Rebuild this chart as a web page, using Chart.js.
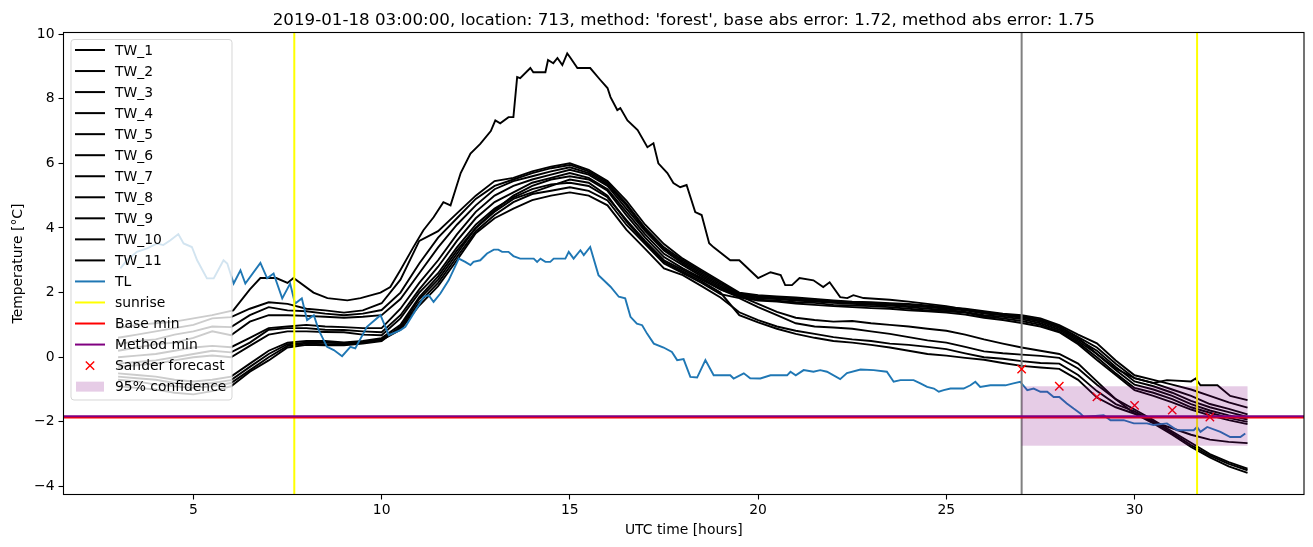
<!DOCTYPE html>
<html>
<head>
<meta charset="utf-8">
<script src="https://cdn.jsdelivr.net/npm/chart.js@4.4.1/dist/chart.umd.min.js"></script>
<style>
  html, body { margin: 0; padding: 0; background: #fff; }
  canvas { display: block; }
</style>
</head>
<body>
<canvas id="chart" width="1313" height="547"></canvas>
<script>
// grid of the water temperature series (hours UTC)
var hours = [3, 3.5, 4, 4.5, 5, 5.5, 6, 6.5, 7, 7.5, 8, 8.5, 9, 9.5, 10,
    10.5, 11, 11.5, 12, 12.5, 13, 13.5, 14, 14.5, 15, 15.5, 16, 16.5, 17, 17.5, 18, 18.5, 19, 19.5, 20,
    20.5, 21, 21.5, 22, 22.5, 23, 23.5, 24, 24.5, 25, 25.5, 26, 26.5, 27, 27.5, 28, 28.5, 29, 29.5, 30,
    30.5, 31, 31.5, 32, 32.5, 33];

var tw1 = [0.6, 0.7, 0.8, 0.9, 1.0, 1.2, 1.24, 1.5, 1.7, 1.65, 1.5, 1.45, 1.38, 1.45, 1.67,
    2.4, 3.6, 3.9, 4.45, 5.0, 5.45, 5.55, 5.75, 5.9, 6.0, 5.8, 5.45, 4.85, 4.1, 3.5, 3.05, 2.7, 2.35, 2.0, 1.92,
    1.88, 1.85, 1.8, 1.76, 1.72, 1.7, 1.67, 1.65, 1.6, 1.55, 1.5, 1.42, 1.35, 1.3, 1.2, 0.99, 0.7, 0.43, -0.1, -0.56,
    -0.7, -0.85, -1.0, -1.2, -1.4, -1.56];
var tw2 = [0.4, 0.5, 0.55, 0.7, 0.8, 0.95, 0.93, 1.3, 1.55, 1.45, 1.42, 1.35, 1.3, 1.35, 1.46,
    2.0, 2.9, 3.7, 4.3, 4.9, 5.3, 5.5, 5.7, 5.85, 5.95, 5.75, 5.4, 4.75, 4.0, 3.4, 3.0, 2.65, 2.3, 1.98, 1.88,
    1.85, 1.82, 1.78, 1.73, 1.7, 1.68, 1.65, 1.62, 1.58, 1.52, 1.48, 1.38, 1.32, 1.26, 1.15, 0.95, 0.62, 0.3, -0.2, -0.65,
    -0.8, -1.0, -1.2, -1.45, -1.6, -1.77];
var tw3 = [0.2, 0.3, 0.4, 0.45, 0.6, 0.8, 0.68, 1.1, 1.3, 1.3, 1.28, 1.25, 1.22, 1.25, 1.3,
    1.8, 2.6, 3.4, 4.1, 4.7, 5.2, 5.45, 5.6, 5.75, 5.88, 5.7, 5.35, 4.7, 3.95, 3.35, 2.95, 2.6, 2.25, 1.95, 1.85,
    1.82, 1.78, 1.75, 1.7, 1.68, 1.65, 1.62, 1.58, 1.55, 1.5, 1.45, 1.35, 1.3, 1.22, 1.1, 0.9, 0.55, 0.2, -0.3, -0.75,
    -0.9, -1.1, -1.35, -1.55, -1.7, -1.85];
var tw4 = [0.0, 0.05, 0.1, 0.2, 0.3, 0.35, 0.31, 0.6, 0.9, 0.95, 1.0, 0.95, 0.93, 0.9, 0.9,
    1.5, 2.3, 3.0, 3.8, 4.5, 5.0, 5.3, 5.5, 5.65, 5.8, 5.65, 5.3, 4.6, 3.9, 3.3, 2.9, 2.55, 2.2, 1.92, 1.82,
    1.8, 1.75, 1.72, 1.68, 1.65, 1.62, 1.6, 1.55, 1.5, 1.46, 1.4, 1.3, 1.25, 1.18, 1.05, 0.85, 0.5, 0.1, -0.4, -0.85,
    -1.0, -1.2, -1.45, -1.65, -1.8, -1.93];
var tw5 = [-0.2, -0.15, -0.1, 0.0, 0.1, 0.2, 0.15, 0.45, 0.85, 0.9, 0.9, 0.85, 0.84, 0.8, 0.77,
    1.3, 2.1, 2.8, 3.6, 4.3, 4.8, 5.1, 5.4, 5.55, 5.7, 5.55, 5.2, 4.5, 3.8, 3.2, 2.85, 2.5, 2.15, 1.9, 1.78,
    1.75, 1.7, 1.68, 1.62, 1.6, 1.58, 1.55, 1.5, 1.45, 1.42, 1.38, 1.26, 1.2, 1.12, 1.0, 0.8, 0.45, 0.0, -0.5, -0.95,
    -1.1, -1.3, -1.55, -1.72, -1.88, -2.0];
var tw6 = [-0.3, -0.25, -0.2, -0.1, 0.0, 0.05, 0.0, 0.35, 0.7, 0.8, 0.8, 0.78, 0.77, 0.7, 0.68,
    1.2, 2.0, 2.6, 3.4, 4.1, 4.6, 4.95, 5.2, 5.35, 5.4, 5.3, 4.95, 4.25, 3.6, 3.0, 2.7, 2.4, 2.1, 1.9, 1.65,
    1.4, 1.22, 1.15, 1.1, 1.12, 1.05, 1.0, 0.95, 0.88, 0.82, 0.7, 0.55, 0.42, 0.3, 0.2, 0.1, -0.2, -0.75, -1.3, -1.74,
    -2.0, -2.2, -2.4, -2.55, -2.62, -2.66];
var tw8 = [-0.5, -0.55, -0.6, -0.7, -0.75, -0.7, -0.6, -0.2, 0.2, 0.45, 0.5, 0.5, 0.46, 0.5, 0.59,
    1.0, 1.86, 2.5, 3.3, 4.0, 4.55, 5.0, 5.3, 5.5, 5.6, 5.5, 5.15, 4.4, 3.7, 3.1, 2.75, 2.45, 2.1, 1.85, 1.75,
    1.72, 1.66, 1.62, 1.58, 1.55, 1.52, 1.5, 1.45, 1.42, 1.38, 1.32, 1.22, 1.15, 1.06, 0.95, 0.77, 0.4, -0.09, -0.55, -1.02,
    -1.2, -1.4, -1.62, -1.8, -1.95, -2.07];
var tw9 = [-0.6, -0.65, -0.7, -0.8, -0.85, -0.8, -0.71, -0.3, 0.1, 0.4, 0.45, 0.45, 0.43, 0.48, 0.55,
    0.9, 1.7, 2.3, 3.1, 3.9, 4.4, 4.8, 5.05, 5.15, 5.26, 5.15, 4.85, 4.1, 3.5, 2.9, 2.6, 2.3, 1.95, 1.83, 1.55,
    1.3, 1.05, 0.95, 0.92, 0.88, 0.8, 0.72, 0.62, 0.52, 0.45, 0.32, 0.18, 0.12, 0.08, 0.04, -0.02, -0.35, -0.85, -1.3, -1.62,
    -1.95, -2.3, -2.65, -3.0, -3.25, -3.45];
var tw10 = [-0.7, -0.75, -0.85, -0.9, -0.95, -0.9, -0.8, -0.4, 0.0, 0.35, 0.42, 0.4, 0.4, 0.45, 0.53,
    0.85, 1.6, 2.2, 3.0, 3.84, 4.3, 4.6, 4.86, 5.0, 5.1, 5.0, 4.7, 3.95, 3.35, 2.75, 2.54, 2.2, 1.85, 1.39, 1.15,
    0.95, 0.82, 0.72, 0.62, 0.55, 0.5, 0.42, 0.38, 0.32, 0.25, 0.12, 0.0, -0.05, -0.12, -0.18, -0.2, -0.55, -1.05, -1.45, -1.68,
    -2.0, -2.35, -2.72, -3.05, -3.3, -3.5];
var tw11 = [-0.9, -0.95, -1.0, -1.1, -1.15, -1.05, -0.9, -0.45, -0.1, 0.3, 0.38, 0.37, 0.37, 0.42, 0.5,
    0.95, 1.8, 2.4, 3.2, 4.0, 4.5, 4.9, 5.1, 5.3, 5.5, 5.4, 5.0, 4.2, 3.55, 2.95, 2.65, 2.35, 2.0, 1.3, 1.08,
    0.88, 0.72, 0.6, 0.5, 0.45, 0.38, 0.3, 0.2, 0.1, 0.05, -0.02, -0.08, -0.18, -0.27, -0.32, -0.36, -0.7, -1.25, -1.55, -1.75,
    -2.05, -2.4, -2.78, -3.1, -3.38, -3.58];

// the warmest sensor has its own, finer trace
var tw7Hours = [3, 3.5, 4, 4.5, 5, 5.5, 6.06, 6.5, 6.78, 7.2, 7.5, 7.66, 8.19, 8.56, 9.09, 9.44, 9.97,
    10.23, 10.5, 10.84, 11.11, 11.38, 11.64, 11.83, 12.1, 12.36, 12.62, 12.9, 13.02, 13.15, 13.37, 13.5,
    13.6, 13.68, 13.95, 14.03, 14.35, 14.42, 14.56, 14.67, 14.8, 14.93, 15.0, 15.2, 15.54, 15.81, 16.0,
    16.08, 16.26, 16.34, 16.53, 16.8, 17.06, 17.22, 17.35, 17.59, 17.75, 17.93, 18.1, 18.33, 18.5, 18.7,
    18.82, 19.26, 19.5, 20.0, 20.33, 20.6, 20.72, 20.9, 21.1, 21.47, 21.73, 21.9, 22.18, 22.37, 22.53,
    22.8, 23.5, 24, 24.5, 25, 25.5, 26, 26.5, 27, 27.5, 28, 28.5, 29, 29.5, 30, 30.5, 30.86, 31.5, 31.62,
    31.75, 32.2, 32.54, 33];
var tw7 = [0.9, 1.0, 1.05, 1.1, 1.2, 1.3, 1.45, 2.1, 2.45, 2.45, 2.3, 2.45, 2.0, 1.83, 1.76, 1.83, 2.0,
    2.17, 2.7, 3.4, 3.93, 4.33, 4.8, 4.7, 5.7, 6.3, 6.6, 7.0, 7.33, 7.24, 7.43, 7.43,
    8.67, 8.64, 8.95, 8.82, 8.82, 9.2, 9.1, 9.26, 9.04, 9.4, 9.29, 8.95, 8.95, 8.58, 8.33,
    8.05, 7.65, 7.71, 7.33, 7.03, 6.5, 6.62, 6.0, 5.7, 5.39, 5.26, 5.33, 4.49, 4.4, 3.53,
    3.4, 3.0, 3.0, 2.45, 2.63, 2.54, 2.23, 2.23, 2.45, 2.38, 2.17, 2.32, 1.86, 1.83, 1.92,
    1.83, 1.78, 1.72, 1.65, 1.58, 1.48, 1.4, 1.32, 1.25, 1.15, 0.95, 0.6, 0.1, -0.35, -0.65, -0.8, -0.71, -0.75, -0.66,
    -0.87, -0.87, -1.2, -1.33];

// air temperature TL
var tlHours = [3.06, 3.24, 3.5, 3.77, 4.04, 4.2, 4.39, 4.6, 4.74, 4.96, 5.1, 5.36, 5.54, 5.8, 5.9, 6.07, 6.25, 6.38,
    6.78, 6.96, 7.13, 7.36, 7.57, 7.7, 7.88, 8.02, 8.2, 8.33, 8.55, 8.73, 8.95, 9.17, 9.3, 9.61, 9.97, 10.19,
    10.5, 10.63, 10.85, 11.12, 11.25, 11.38, 11.56, 11.78, 12.05, 12.22, 12.36, 12.44, 12.62, 12.8, 12.98, 13.1,
    13.2, 13.37, 13.5, 13.68, 14.04, 14.13, 14.22, 14.35, 14.48, 14.57, 14.88, 14.97, 15.1, 15.28, 15.37, 15.54,
    15.76, 16.08, 16.3, 16.47, 16.61, 16.78, 16.92, 17.05, 17.23, 17.49, 17.71, 17.85, 18.02, 18.2, 18.38, 18.6,
    18.82, 19.26, 19.35, 19.62, 19.79, 20.06, 20.33, 20.77, 20.86, 21.0, 21.21, 21.47, 21.65, 21.83, 22.18, 22.36,
    22.72, 23.07, 23.42, 23.6, 23.78, 24.13, 24.31, 24.49, 24.67, 24.8, 24.93, 25.11, 25.46, 25.64, 25.77, 25.9,
    26.17, 26.57, 26.78, 26.96, 27.15, 27.32, 27.5, 27.68, 27.85, 28.0, 28.2, 28.38, 28.56, 28.65, 29.18, 29.36,
    29.71, 29.98, 30.33, 30.5, 30.86, 31.13, 31.57, 31.66, 31.75, 31.93, 32.28, 32.54, 32.81, 32.94];
var tl = [2.75, 3.0, 3.26, 3.37, 3.52, 3.47, 3.62, 3.81, 3.52, 3.41, 3.0, 2.44, 2.44, 3.0, 2.9, 2.28, 2.69, 2.28,
    2.92, 2.44, 2.59, 1.82, 2.28, 1.66, 1.82, 1.15, 1.3, 0.84, 0.32, 0.22, 0.03, 0.32, 0.27, 0.94, 1.3, 0.68,
    0.84, 0.94, 1.35, 1.87, 1.92, 1.71, 1.97, 2.38, 3.05, 2.95, 2.85, 2.95, 3.0, 3.21, 3.33, 3.33,
    3.26, 3.26, 3.13, 3.05, 3.05, 2.95, 3.05, 2.95, 2.95, 3.05, 3.05, 3.26, 3.05, 3.31, 3.16, 3.41,
    2.54, 2.18, 1.87, 1.82, 1.25, 1.04, 0.99, 0.73, 0.42, 0.3, 0.16, -0.09, -0.06, -0.61, -0.63, -0.09,
    -0.56, -0.56, -0.66, -0.5, -0.65, -0.66, -0.56, -0.56, -0.45, -0.56, -0.4, -0.45, -0.4, -0.45, -0.68, -0.49,
    -0.38, -0.4, -0.45, -0.76, -0.71, -0.71, -0.81, -0.92, -0.97, -1.07, -1.02, -0.97, -0.97, -0.87, -0.76, -0.92,
    -0.87, -0.87, -0.81, -0.76, -1.02, -0.97, -1.07, -1.07, -1.23, -1.23, -1.43, -1.59, -1.74, -1.85, -1.8, -1.95,
    -1.95, -2.05, -2.05, -2.1, -2.05, -2.26, -2.26, -2.16, -2.31, -2.16, -2.31, -2.47, -2.47, -2.36];

// forecast part
var forecastHours = [27, 28, 29, 30, 31, 32];
var forecastTemp = [-0.37, -0.9, -1.23, -1.49, -1.64, -1.85];
var bandHours = [27, 33];
var bandLow = -2.74;
var bandHigh = -0.9;
var sunriseHours = [7.68, 31.66];
var forecastStart = 27;
var baseMin = -1.865;
var methodMin = -1.83;

var xTicks = [5, 10, 15, 20, 25, 30];
var yTicks = [-4, -2, 0, 2, 4, 6, 8, 10];

var twSeries = [
    [hours, tw1], [hours, tw2], [hours, tw3], [hours, tw4], [hours, tw5], [hours, tw6],
    [tw7Hours, tw7], [hours, tw8], [hours, tw9], [hours, tw10], [hours, tw11]
];

function toPoints(xs, ys) {
    return xs.map(function (x, i) { return { x: x, y: ys[i] }; });
}

var FONT = "'DejaVu Sans', sans-serif";
Chart.defaults.font.family = FONT;
Chart.defaults.font.size = 13.9;
Chart.defaults.color = '#000';

var datasets = twSeries.map(function (s, i) {
    return {
        label: 'TW_' + (i + 1),
        data: toPoints(s[0], s[1]),
        borderColor: '#000',
        borderWidth: 1.9,
        pointRadius: 0,
        order: 3
    };
});
datasets.push({
    label: 'TL',
    data: toPoints(tlHours, tl),
    borderColor: '#1f77b4',
    borderWidth: 1.9,
    pointRadius: 0,
    order: 2
});
datasets.push({
    label: 'Sander forecast',
    data: toPoints(forecastHours, forecastTemp),
    showLine: false,
    pointStyle: 'crossRot',
    pointRadius: 5.9,
    borderColor: '#ff0000',
    borderWidth: 1.4,
    order: 1
});
var TL_INDEX = 11;

var legendItems = [];
for (var i = 1; i <= 11; i++) legendItems.push({ label: 'TW_' + i, kind: 'line', color: '#000' });
legendItems.push({ label: 'TL', kind: 'line', color: '#1f77b4' });
legendItems.push({ label: 'sunrise', kind: 'line', color: '#ffff00' });
legendItems.push({ label: 'Base min', kind: 'line', color: '#ff0000' });
legendItems.push({ label: 'Method min', kind: 'line', color: '#800080' });
legendItems.push({ label: 'Sander forecast', kind: 'marker', color: '#ff0000' });
legendItems.push({ label: '95% confidence', kind: 'patch', color: 'rgba(128,0,128,0.2)' });

function drawCross(ctx, cx, cy, r) {
    ctx.beginPath();
    ctx.moveTo(cx - r, cy - r); ctx.lineTo(cx + r, cy + r);
    ctx.moveTo(cx - r, cy + r); ctx.lineTo(cx + r, cy - r);
    ctx.stroke();
}

var overlays = {
    id: 'overlays',
    afterDatasetDraw: function (chart, args) {
        if (args.index !== TL_INDEX) return;
        var ctx = chart.ctx, a = chart.chartArea, x = chart.scales.x, y = chart.scales.y;
        ctx.save();
        ctx.beginPath();
        ctx.rect(a.left, a.top, a.right - a.left, a.bottom - a.top);
        ctx.clip();
        ctx.lineWidth = 2;
        ctx.strokeStyle = '#808080';
        var gx = x.getPixelForValue(forecastStart);
        ctx.beginPath(); ctx.moveTo(gx, a.top); ctx.lineTo(gx, a.bottom); ctx.stroke();
        ctx.strokeStyle = '#ffff00';
        sunriseHours.forEach(function (h) {
            var px = x.getPixelForValue(h);
            ctx.beginPath(); ctx.moveTo(px, a.top); ctx.lineTo(px, a.bottom); ctx.stroke();
        });
        ctx.strokeStyle = '#ff0000';
        var by = y.getPixelForValue(baseMin);
        ctx.beginPath(); ctx.moveTo(a.left, by); ctx.lineTo(a.right, by); ctx.stroke();
        ctx.strokeStyle = '#800080';
        var my = y.getPixelForValue(methodMin);
        ctx.beginPath(); ctx.moveTo(a.left, my); ctx.lineTo(a.right, my); ctx.stroke();
        ctx.restore();
    },
    afterDatasetsDraw: function (chart) {
        var ctx = chart.ctx, a = chart.chartArea, x = chart.scales.x, y = chart.scales.y;
        // 95% confidence band
        var x0 = x.getPixelForValue(bandHours[0]), x1 = x.getPixelForValue(bandHours[1]);
        var y0 = y.getPixelForValue(bandHigh), y1 = y.getPixelForValue(bandLow);
        ctx.save();
        ctx.fillStyle = 'rgba(128,0,128,0.2)';
        ctx.fillRect(x0, y0, x1 - x0, y1 - y0);
        // axes box
        ctx.strokeStyle = '#000';
        ctx.lineWidth = 1.1;
        ctx.strokeRect(a.left, a.top, a.right - a.left, a.bottom - a.top);
        ctx.restore();
    },
    afterDraw: function (chart) {
        var ctx = chart.ctx, a = chart.chartArea;
        ctx.save();
        // title
        ctx.fillStyle = '#000';
        ctx.font = '16.7px ' + FONT;
        ctx.textAlign = 'center';
        ctx.textBaseline = 'alphabetic';
        ctx.fillText("2019-01-18 03:00:00, location: 713, method: 'forest', base abs error: 1.72, method abs error: 1.75",
            (a.left + a.right) / 2, 24.5);
        // legend
        var lx = a.left + 7.5, ly = a.top + 7, lw = 161, lh = 360.5;
        ctx.beginPath();
        ctx.roundRect(lx, ly, lw, lh, 3);
        ctx.fillStyle = 'rgba(255,255,255,0.8)';
        ctx.fill();
        ctx.strokeStyle = 'rgba(204,204,204,0.8)';
        ctx.lineWidth = 1;
        ctx.stroke();
        ctx.font = '13.9px ' + FONT;
        ctx.textAlign = 'left';
        ctx.textBaseline = 'middle';
        legendItems.forEach(function (item, i) {
            var cy = ly + 10.5 + i * 21.04;
            var hx = lx + 4;
            if (item.kind === 'line') {
                ctx.strokeStyle = item.color;
                ctx.lineWidth = 2;
                ctx.beginPath(); ctx.moveTo(hx, cy); ctx.lineTo(hx + 30, cy); ctx.stroke();
            } else if (item.kind === 'marker') {
                ctx.strokeStyle = item.color;
                ctx.lineWidth = 1.4;
                drawCross(ctx, hx + 15, cy, 4.2);
            } else {
                ctx.fillStyle = item.color;
                ctx.fillRect(hx + 1, cy - 5, 28, 10);
            }
            ctx.fillStyle = '#000';
            ctx.fillText(item.label, hx + 40, cy + 1);
        });
        ctx.restore();
    }
};

function minusSign(v) {
    return String(v).replace('-', '\u2212');
}

var ctx = document.getElementById('chart').getContext('2d');
var chart = new Chart(ctx, {
    type: 'line',
    data: { datasets: datasets },
    options: {
        responsive: false,
        animation: false,
        devicePixelRatio: 1,
        layout: { padding: { left: 0, top: 32.5, right: 9, bottom: 0 } },
        plugins: {
            legend: { display: false },
            tooltip: { enabled: false },
            title: { display: false }
        },
        scales: {
            x: {
                type: 'linear',
                min: 1.55,
                max: 34.5,
                afterBuildTicks: function (s) { s.ticks = xTicks.map(function (v) { return { value: v }; }); },
                afterFit: function (s) { s.height = 52.5; },
                ticks: { padding: 3, maxRotation: 0, autoSkip: false, callback: minusSign },
                grid: { display: true, drawOnChartArea: false, drawTicks: true, tickLength: 5, tickColor: '#000', tickWidth: 1.1 },
                border: { display: false },
                title: { display: true, text: 'UTC time [hours]', padding: { top: 0, bottom: 8 } }
            },
            y: {
                type: 'linear',
                min: -4.25,
                max: 10.05,
                afterBuildTicks: function (s) { s.ticks = yTicks.map(function (v) { return { value: v }; }); },
                afterFit: function (s) { s.width = 63.5; },
                ticks: { padding: 4, autoSkip: false, callback: minusSign },
                grid: { display: true, drawOnChartArea: false, drawTicks: true, tickLength: 5, tickColor: '#000', tickWidth: 1.1 },
                border: { display: false },
                title: { display: true, text: 'Temperature [°C]', padding: { top: 10, bottom: 0 } }
            }
        }
    },
    plugins: [overlays]
});
</script>
</body>
</html>
